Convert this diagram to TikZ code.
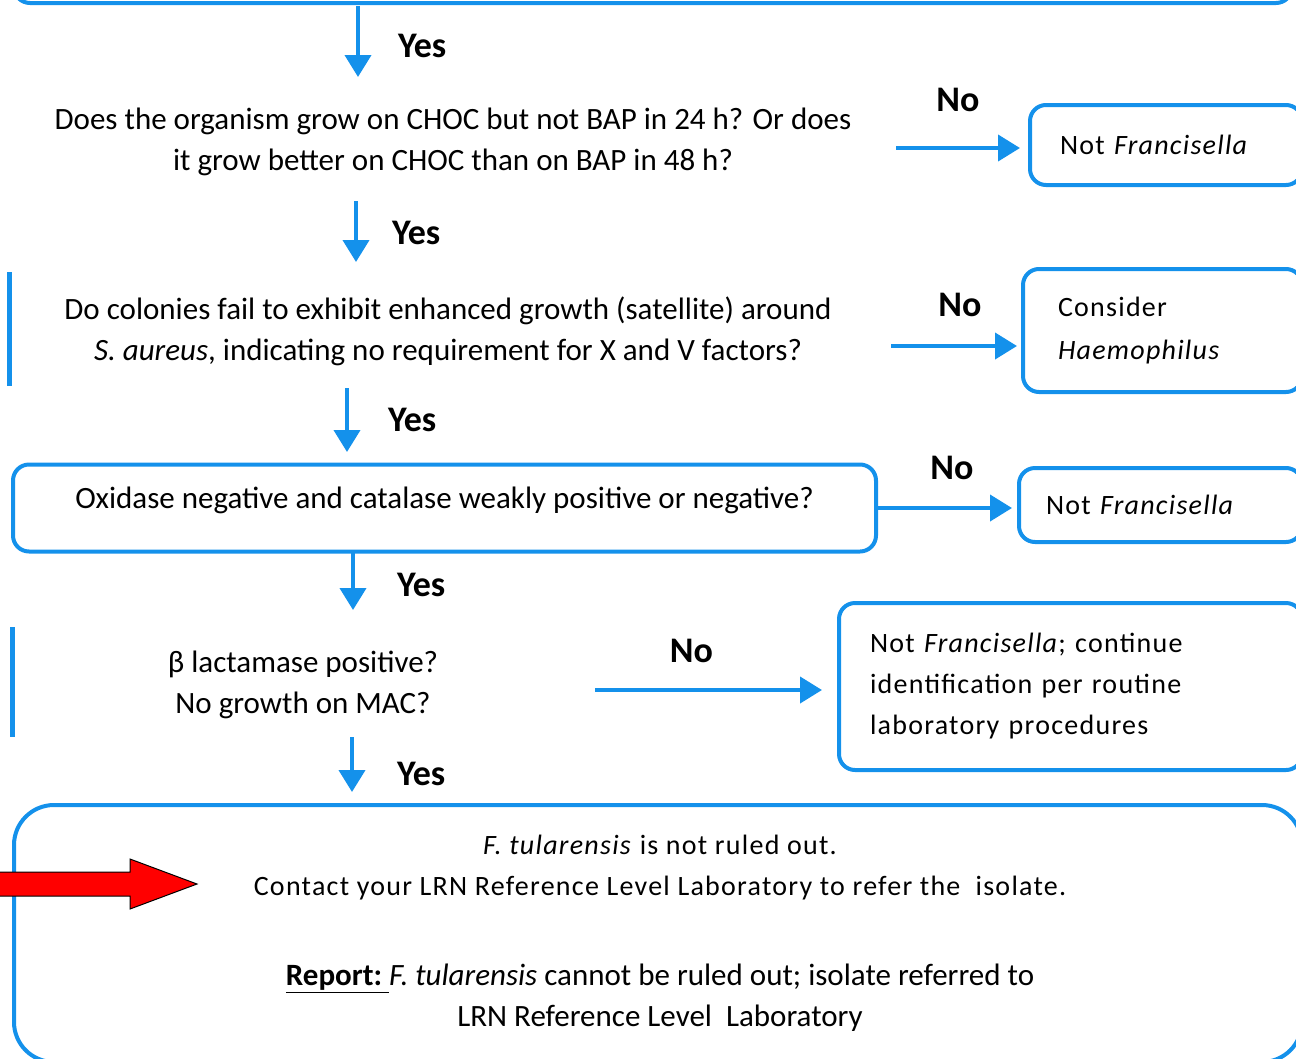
\documentclass[tikz,border=0pt]{standalone}
\usepackage{fontspec}
\setmainfont{Carlito}
\newfontfamily\widefont[LetterSpace=4.5]{Carlito}
\usetikzlibrary{arrows.meta}
\definecolor{flowblue}{RGB}{20,145,235}
\tikzset{
  box/.style={draw=flowblue, line width=4pt, rounded corners=16pt},
  flow/.style={draw=flowblue, line width=4pt, -{Triangle[width=26pt,length=22pt]}},
  ans/.style={font=\fontsize{36}{40}\selectfont\bfseries, inner sep=0pt},
  question/.style={align=center, inner sep=0pt, font=\fontsize{31}{41}\selectfont},
  side/.style={box, anchor=north west, align=left, font=\fontsize{28}{41}\selectfont\widefont},
  bar/.style={draw=flowblue, line width=5pt},
}
\begin{document}
\begin{tikzpicture}[x=1pt,y=-1pt]
\useasboundingbox (0,0) rectangle (1296,1058);
% first step, only its lower edge is in the picture
\node[box, anchor=south west, minimum width=1278pt, minimum height=90pt] (start) at (12,5) {};

\node[question] (q1) at (453,142) {Does the organism grow on CHOC but not BAP in 24 h? Or does\\ it grow better on CHOC than on BAP in 48 h?};
\node[side, minimum height=80pt, inner xsep=30pt, text width=212pt] (nf1) at (1028,103) {Not \textit{Francisella}};

\draw[bar] (9,272) -- (9,386);
\node[question] (q2) at (448,331) {Do colonies fail to exhibit enhanced growth (satellite) around\\ \textit{S. aureus}, indicating no requirement for X and V factors?};
\node[side, minimum height=123pt, inner xsep=35pt, text width=209pt, font=\fontsize{28}{43}\selectfont\widefont] (hae) at (1021,267) {Consider\\ \textit{Haemophilus}};

\node[box, minimum width=863pt, minimum height=87pt, font=\fontsize{31}{41}\selectfont, text height=20pt, text depth=20pt] (ox) at (444.5,508) {Oxidase negative and catalase weakly positive or negative?};
\node[side, minimum height=74pt, inner xsep=27pt, text width=229pt] (nf2) at (1017,466) {Not \textit{Francisella}};

\draw[bar] (12,627) -- (12,737);
\node[question] (q3) at (303,685) {β lactamase positive?\\ No growth on MAC?};
\node[side, minimum height=167pt, inner xsep=31pt, text width=401pt] (cont) at (837,601) {Not \textit{Francisella}; continue\\ identification per routine\\ laboratory procedures};

% last step
\node[box, anchor=north west, minimum width=1288pt, minimum height=257pt, rounded corners=40pt] (fin) at (12,803) {};
\node[question, font=\fontsize{28}{41}\selectfont\widefont] (ruled) at (660,868) {\textit{F. tularensis} is not ruled out.\\ Contact your LRN Reference Level Laboratory to refer the\ \ isolate.};
\node[question] (rep) at (660,998) {\underline{\textbf{Report:}\ }\textit{F. tularensis} cannot be ruled out; isolate referred to\\ LRN Reference Level\ \ Laboratory};
\draw[draw=black, fill=red, line width=1pt] (-5,872) -- (130,872) -- (130,859) -- (197,884) -- (130,909) -- (130,896) -- (-5,896) -- cycle;

% yes arrows
\coordinate (y1a) at (358,6);   \coordinate (y1b) at (358,77);
\coordinate (y2a) at (356,201); \coordinate (y2b) at (356,262);
\coordinate (y3a) at (347,388); \coordinate (y3b) at (347,452);
\coordinate (y4a) at (353,551); \coordinate (y4b) at (353,610);
\coordinate (y5a) at (352,737); \coordinate (y5b) at (352,792);
\path (y1a) edge[flow] node[ans, midway, right=38pt, yshift=-4pt]{Yes} (y1b);
\path (y2a) edge[flow] node[ans, midway, right=34pt, yshift=-1pt]{Yes} (y2b);
\path (y3a) edge[flow] node[ans, midway, right=39pt]{Yes} (y3b);
\path (y4a) edge[flow] node[ans, midway, right=42pt, yshift=-4pt]{Yes} (y4b);
\path (y5a) edge[flow] node[ans, midway, right=43pt, yshift=-9pt]{Yes} (y5b);

% no arrows
\coordinate (n1a) at (896,148); \coordinate (n1b) at (1020,148);
\coordinate (n2a) at (891,346); \coordinate (n2b) at (1017,346);
\coordinate (n3b) at (1012,508);
\coordinate (n4a) at (595,690); \coordinate (n4b) at (822,690);
\path (n1a) edge[flow] node[ans, midway, above=34pt]{No} (n1b);
\path (n2a) edge[flow] node[ans, midway, above=27pt, xshift=6pt]{No} (n2b);
\path (ox.east) edge[flow] node[ans, midway, above=26pt, xshift=7pt]{No} (n3b);
\path (n4a) edge[flow] node[ans, midway, above=25pt, xshift=-17pt]{No} (n4b);
\end{tikzpicture}
\end{document}
